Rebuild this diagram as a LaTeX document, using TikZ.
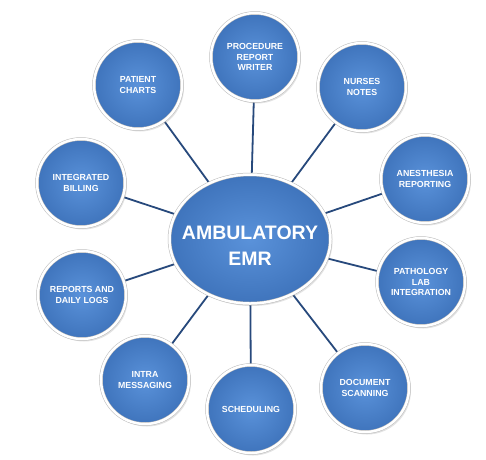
\documentclass[tikz,border=0pt]{standalone}
\usepackage{fontspec}
\setmainfont{Liberation Sans}
\usetikzlibrary{backgrounds,shadows,shapes.geometric}
\definecolor{blueA}{HTML}{5A92DA}
\definecolor{blueB}{HTML}{3F74BC}
\definecolor{linec}{HTML}{27497C}
\begin{document}
\begin{tikzpicture}[x=1pt,y=-1pt,
  sat/.style={circle, minimum size=88pt, inner sep=0pt, align=center, text=white,
    font=\bfseries\fontsize{8.8}{10.7}\selectfont,
    shading=radial, inner color=blueA, outer color=blueB,
    draw=gray!55, line width=0.5pt, double=white, double distance=2.5pt,
    drop shadow={opacity=0.22, shadow xshift=2pt, shadow yshift=-2.5pt}},
  hub/.style={ellipse, minimum width=161pt, minimum height=129pt, inner sep=0pt,
    shading=radial, inner color=blueA, outer color=blueB,
    draw=gray!55, line width=0.5pt, double=white, double distance=2.5pt,
    drop shadow={opacity=0.22, shadow xshift=2pt, shadow yshift=-2.5pt}},
  hubtext/.style={align=center, text=white, inner sep=0pt,
    font=\bfseries\fontsize{19.5}{26}\selectfont},
  conn/.style={draw=linec, line width=1.8pt}]
\useasboundingbox (0,0) rectangle (486,459);
\node[hub] (c) at (250,239) {};
\node[hubtext] (ct) at (250,246) {AMBULATORY\\EMR};
\node[sat] (p1) at (255,57) {PROCEDURE\\REPORT\\WRITER};
\node[sat] (p2) at (362,87) {NURSES\\NOTES};
\node[sat] (p3) at (425,179) {ANESTHESIA\\REPORTING};
\node[sat] (p4) at (421,282) {PATHOLOGY\\LAB\\INTEGRATION};
\node[sat] (p5) at (365,388) {DOCUMENT\\SCANNING};
\node[sat] (p6) at (251,409) {SCHEDULING};
\node[sat] (p7) at (145,380) {INTRA\\MESSAGING};
\node[sat] (p8) at (82,295) {REPORTS AND\\DAILY LOGS};
\node[sat] (p9) at (81,183) {INTEGRATED\\BILLING};
\node[sat] (p10) at (138,85) {PATIENT\\CHARTS};
\begin{pgfonlayer}{background}
\fill[white] (0,0) rectangle (486,459);
\foreach \i in {1,...,10} {\draw[conn] (c.center) -- (p\i.center);}
\end{pgfonlayer}
\end{tikzpicture}
\end{document}
